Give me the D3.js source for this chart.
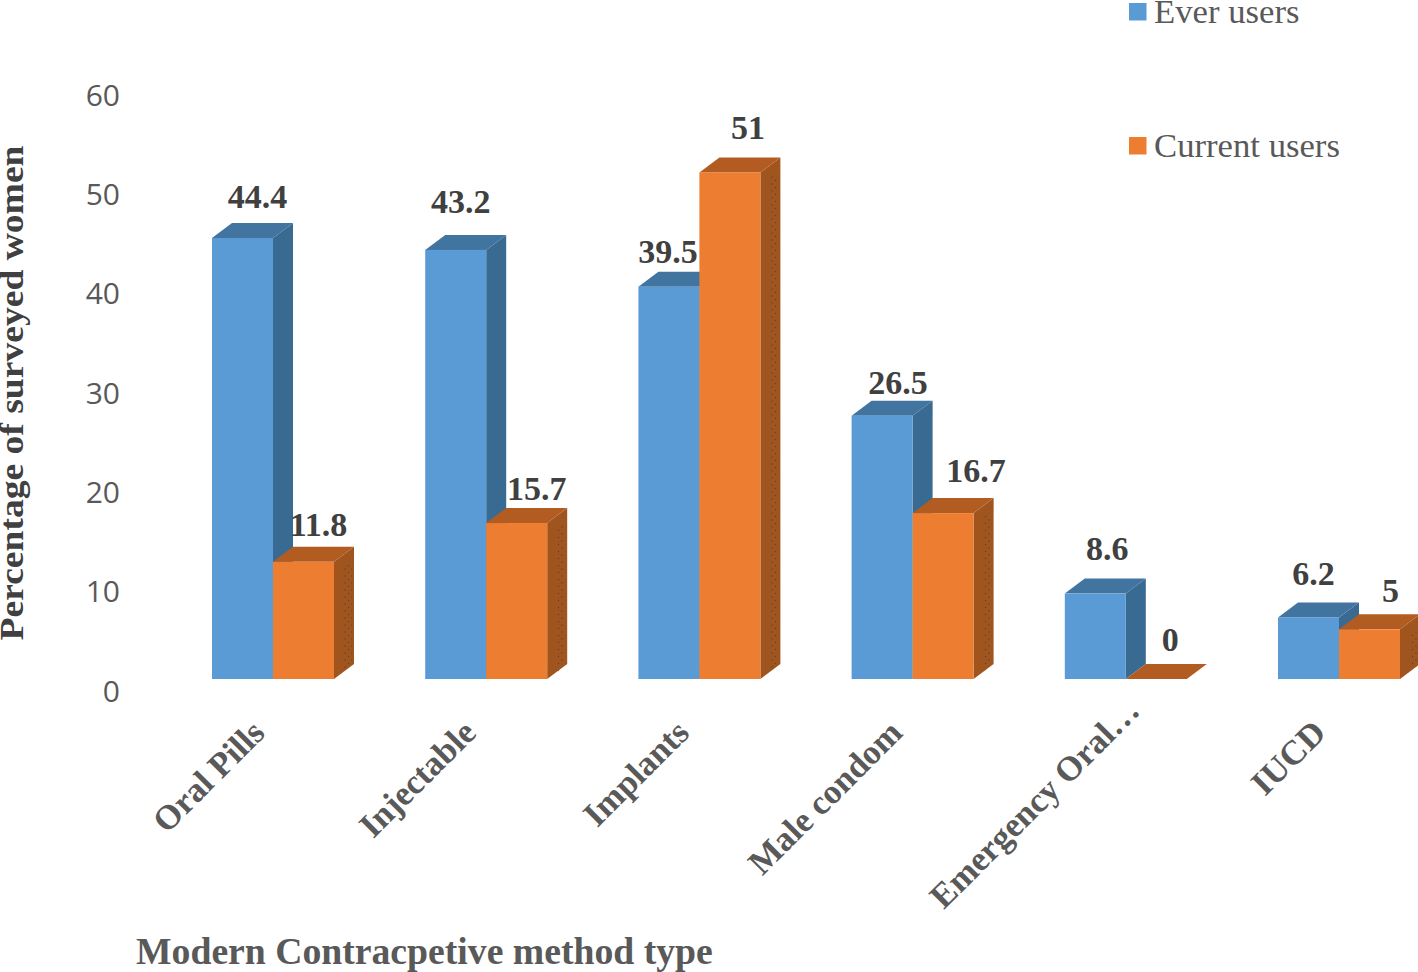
<!DOCTYPE html>
<html><head><meta charset="utf-8">
<script src="https://cdnjs.cloudflare.com/ajax/libs/d3/7.8.5/d3.min.js"></script>
<style>html,body{margin:0;padding:0;background:#fff;overflow:hidden}svg{display:block}</style>
</head><body><svg id="c" width="1418" height="972"></svg>
<script>
const categories=["Oral Pills","Injectable","Implants","Male condom","Emergency Oral\u2026","IUCD"];
const everUsers=[44.4,43.2,39.5,26.5,8.6,6.2];
const currentUsers=[11.8,15.7,51,16.7,0,5];
const yTicks=[0,10,20,30,40,50,60];
const seriesNames=["Ever users","Current users"];
const yTitle="Percentage of surveyed women";
const xTitle="Modern Contracpetive method type";

// layout only: label nudges from the automatic position
const everNudge=[[15,-38],[5,-45],[-1,-31],[16,-30],[12,-41],[5,-40]];
const currentNudge=[[15,-34],[20,-31],[18,-41],[33,-39],[14,-36],[21,-35]];
const categoryNudge=[[-16,0],[-18,0],[-18,0],[-18,0],[6,-22],[-21,0]];

const svg=d3.select("#c");
const serif="'Liberation Serif',serif";
const DX=20,DY=-15;
const x=d3.scaleBand().domain(categories).range([166.4,1445.6]).paddingInner(.4278).paddingOuter(.2139);
const y=d3.scaleLinear().domain([0,60]).range([679,83]);
const yAxisScale=d3.scaleLinear().domain([0,60]).range([693,97]);
const sx=d3.scaleBand().domain([0,1]).range([0,x.bandwidth()]);
const w=sx.bandwidth();

const defs=svg.append("defs");
const pat=defs.append("pattern").attr("id","dots").attr("width",7).attr("height",7).attr("patternUnits","userSpaceOnUse");
pat.append("circle").attr("cx",2).attr("cy",2).attr("r",.7).attr("fill","#3d3a40");
pat.append("circle").attr("cx",5.5).attr("cy",5.5).attr("r",.7).attr("fill","#3d3a40");

const series=[
 {v:everUsers,front:"#5B9BD5",top:"#41749F",side:"#386A92",n:everNudge},
 {v:currentUsers,front:"#ED7D31",top:"#B25C22",side:"#A0551F",n:currentNudge}
];

// y axis
const yAxis=d3.axisLeft(yAxisScale).tickValues(yTicks).tickSize(0).tickPadding(0);
const ga=svg.append("g").attr("transform","translate(120,0)").call(yAxis);
ga.select(".domain").remove();
ga.selectAll("text").attr("font-family","'Open Sans',sans-serif").attr("font-size",30).attr("fill","#595959").attr("dy","0").attr("dominant-baseline","middle");

// bars
categories.forEach((c,i)=>{
  series.forEach((s,k)=>{
    const x0=x(c)+sx(k),x1=x0+w,yt=y(s.v[i]),yb=y(0);
    const g=svg.append("g");
    g.append("polygon").attr("points",[[x1,yt],[x1+DX,yt+DY],[x1+DX,yb+DY],[x1,yb]].join(" ")).attr("fill",s.side);
    if(k===1&&s.v[i]>0){
      g.append("polygon").attr("points",[[x1+10,yt+DY+18],[x1+DX-2,yt+DY+18],[x1+DX-2,yb+DY-4],[x1+10,yb-6]].join(" ")).attr("fill","url(#dots)").attr("opacity",.75);
    }
    g.append("polygon").attr("points",[[x0,yt],[x0+DX,yt+DY],[x1+DX,yt+DY],[x1,yt]].join(" ")).attr("fill",s.top);
    if(s.v[i]>0) g.append("rect").attr("x",x0).attr("y",yt).attr("width",w).attr("height",yb-yt).attr("fill",s.front);
  });
});

// data labels
series.forEach((s,k)=>{
  svg.append("g").selectAll("text").data(s.v).join("text")
    .attr("x",(d,i)=>x(categories[i])+sx(k)+w/2+s.n[i][0])
    .attr("y",(d,i)=>y(d)+s.n[i][1])
    .attr("text-anchor","middle").attr("dominant-baseline","middle")
    .attr("font-family",serif).attr("font-weight","bold").attr("font-size",34).attr("fill","#404040")
    .text(d=>d);
});

// category labels
svg.append("g").selectAll("text").data(categories).join("text")
  .attr("transform",(c,i)=>`translate(${x(c)+x.bandwidth()/2+4+categoryNudge[i][0]},${729+categoryNudge[i][1]}) rotate(-45)`)
  .attr("text-anchor","end").attr("dominant-baseline","middle")
  .attr("font-family",serif).attr("font-weight","bold").attr("font-size",34.6).attr("fill","#595959")
  .text(c=>c);

// legend
const lg=svg.append("g").selectAll("g").data(seriesNames).join("g").attr("transform",(d,i)=>`translate(1129,${3+i*134})`);
lg.append("rect").attr("width",17.5).attr("height",17.5).attr("fill",(d,i)=>series[i].front);
lg.append("text").attr("x",25).attr("y",20).attr("font-family",serif).attr("font-size",34.7).attr("fill","#595959").text(d=>d);

// titles
svg.append("text").attr("transform","translate(15,393) rotate(-90)").attr("text-anchor","middle").attr("dominant-baseline","middle")
  .attr("font-family",serif).attr("font-weight","bold").attr("font-size",34).attr("textLength",495).attr("lengthAdjust","spacingAndGlyphs").attr("fill","#404040").text(yTitle);
svg.append("text").attr("x",136).attr("y",964).attr("font-family",serif).attr("font-weight","bold").attr("font-size",37.7).attr("fill","#595959").text(xTitle);
</script></body></html>
